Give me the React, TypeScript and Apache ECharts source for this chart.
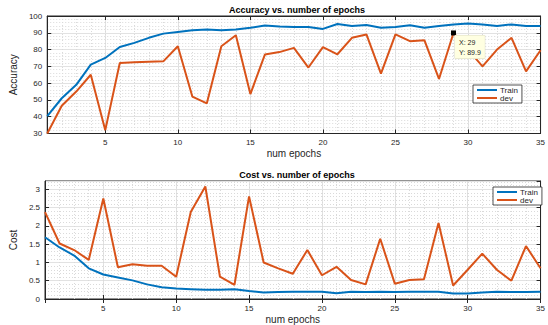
import React, { useEffect, useRef } from "react";
import * as echarts from "echarts";

// ---- data ----
const epochs = [1, 2, 3, 4, 5, 6, 7, 8, 9, 10, 11, 12, 13, 14, 15, 16, 17, 18, 19, 20, 21, 22, 23, 24, 25, 26, 27, 28, 29, 30, 31, 32, 33, 34, 35];

const trainAcc = [40.3, 51, 59, 71, 75, 81.5, 84, 87, 89.5, 90.5, 91.5, 92, 91.5, 92, 93, 94.3, 93.8, 93.5, 93.5, 92.3, 95.2, 94, 94.6, 93, 93.5, 94.5, 93, 94, 95, 95.5, 95, 94, 95, 94, 94];
const devAcc = [30, 46.5, 55, 65, 32, 72, 72.5, 72.8, 73, 82, 52, 48, 82, 88.5, 53.5, 77, 78.5, 81, 69.3, 81.5, 77.2, 87, 89, 65.7, 89.1, 85, 85.5, 62.5, 89.9, 80, 70, 80, 87, 67, 79.6];

const trainCost = [1.69, 1.41, 1.19, 0.84, 0.67, 0.59, 0.51, 0.4, 0.32, 0.29, 0.27, 0.25, 0.25, 0.27, 0.22, 0.18, 0.19, 0.2, 0.2, 0.2, 0.16, 0.2, 0.19, 0.2, 0.19, 0.2, 0.2, 0.2, 0.15, 0.15, 0.18, 0.2, 0.19, 0.19, 0.2];
const devCost = [2.38, 1.52, 1.34, 1.07, 2.75, 0.87, 0.95, 0.91, 0.91, 0.61, 2.38, 3.08, 0.61, 0.39, 2.81, 1.0, 0.84, 0.69, 1.34, 0.65, 0.88, 0.52, 0.4, 1.65, 0.42, 0.52, 0.54, 2.08, 0.37, 0.8, 1.24, 0.8, 0.5, 1.45, 0.84];

const seriesNames = ["Train", "dev"];
const titles = ["Accuracy vs. number of epochs", "Cost vs. number of epochs"];
const tipEpoch = 29;

const BLUE = "#0072BD";
const ORANGE = "#D95319";
const AX = "#262626";
const FONT = "'Liberation Sans', Arial, Helvetica, sans-serif";

function pairs(vals: number[]) {
  return vals.map((v, i) => [epochs[i], v]);
}

function xAxes(gridIndex: number) {
  return [
    {
      gridIndex,
      type: "value",
      min: 1,
      max: 35,
      splitNumber: 7,
      position: "bottom",
      name: "num epochs",
      nameLocation: "middle",
      nameGap: 15,
      nameTextStyle: { fontSize: 10, color: AX, fontFamily: FONT },
      axisLine: { show: true, lineStyle: { color: AX, width: 1 } },
      axisTick: { show: true, inside: true, length: 4, lineStyle: { color: AX } },
      axisLabel: { showMinLabel: false, fontSize: 8, color: AX, margin: 5, fontFamily: FONT },
      splitLine: { show: true, lineStyle: { color: "#e2e2e2", width: 1 } },
    },
    {
      gridIndex,
      type: "value",
      min: 1,
      max: 35,
      splitNumber: 7,
      position: "top",
      axisLine: { show: true, lineStyle: { color: AX, width: 1 } },
      axisTick: { show: true, inside: true, length: 4, lineStyle: { color: AX } },
      axisLabel: { show: false },
      splitLine: { show: false },
    },
    {
      gridIndex,
      type: "value",
      min: 1,
      max: 35,
      interval: 1,
      position: "top",
      axisLine: { show: false },
      axisTick: { show: false },
      axisLabel: { show: false },
      splitLine: { show: true, lineStyle: { color: "#dadada", width: 1, type: [1, 2] } },
    },
  ];
}

function yAxes(gridIndex: number, min: number, max: number, interval: number, name: string, nameGap: number, showMax: boolean) {
  return [
    {
      gridIndex,
      type: "value",
      min,
      max,
      interval,
      position: "left",
      name,
      nameLocation: "middle",
      nameGap,
      nameTextStyle: { fontSize: 10, color: AX, fontFamily: FONT },
      axisLine: { show: true, lineStyle: { color: AX, width: 1 } },
      axisTick: { show: true, inside: true, length: 4, lineStyle: { color: AX } },
      axisLabel: { showMaxLabel: showMax, fontSize: 8, color: AX, margin: 5, fontFamily: FONT },
      splitLine: { show: true, lineStyle: { color: "#e2e2e2", width: 1 } },
      minorTick: { show: false, splitNumber: 5 },
      minorSplitLine: { show: true, lineStyle: { color: "#dadada", width: 1, type: [1, 2] } },
    },
    {
      gridIndex,
      type: "value",
      min,
      max,
      interval,
      position: "right",
      axisLine: { show: true, lineStyle: { color: AX, width: 1 } },
      axisTick: { show: true, inside: true, length: 4, lineStyle: { color: AX } },
      axisLabel: { show: false },
      splitLine: { show: false },
    },
  ];
}

function legend(left: number, top: number) {
  return {
    left,
    top,
    orient: "vertical",
    data: seriesNames,
    icon: "rect",
    itemWidth: 20,
    itemHeight: 2,
    itemGap: 0,
    padding: [1, 4, 1, 4],
    backgroundColor: "#fff",
    borderColor: AX,
    borderWidth: 0.8,
    borderRadius: 0,
    selectedMode: false,
    textStyle: { fontSize: 8, color: AX, fontFamily: FONT, padding: [0, 0, 0, -2] },
  };
}

export default function App() {
  const ref = useRef<HTMLDivElement>(null);

  useEffect(() => {
    if (!ref.current) return;
    const chart = echarts.init(ref.current, undefined, { renderer: "svg" });
    const tipValue = devAcc[epochs.indexOf(tipEpoch)];

    const option: any = {
      animation: false,
      backgroundColor: "#fff",
      textStyle: { fontFamily: FONT },
      title: [
        {
          text: titles[0],
          left: 292,
          top: 2,
          padding: [3, 5, 3, 5],
          textAlign: "center",
          textStyle: { fontSize: 9, fontWeight: "bold", color: "#000", fontFamily: FONT },
        },
        {
          text: titles[1],
          left: 292,
          top: 167,
          padding: [3, 5, 3, 5],
          textAlign: "center",
          textStyle: { fontSize: 9, fontWeight: "bold", color: "#000", fontFamily: FONT },
        },
      ],
      grid: [
        { left: 38, right: 2, top: 16, height: 117.5, show: true, borderColor: AX, borderWidth: 1, backgroundColor: "#fff" },
        { left: 38, right: 2, top: 181, height: 118.3, show: true, borderColor: AX, borderWidth: 1, backgroundColor: "#fff" },
      ],
      xAxis: [...xAxes(0), ...xAxes(1)],
      yAxis: [...yAxes(0, 30, 100, 10, "Accuracy", 19, true), ...yAxes(1, 0, 3.23, 0.5, "Cost", 18, false)],
      legend: [legend(473, 85), legend(493, 187)],
      series: [
        {
          name: seriesNames[0],
          type: "line",
          xAxisIndex: 0,
          yAxisIndex: 0,
          data: pairs(trainAcc),
          showSymbol: false,
          color: BLUE,
          lineStyle: { width: 2, color: BLUE },
        },
        {
          name: seriesNames[1],
          type: "line",
          xAxisIndex: 0,
          yAxisIndex: 0,
          data: pairs(devAcc),
          showSymbol: false,
          color: ORANGE,
          lineStyle: { width: 2, color: ORANGE },
          markPoint: {
            symbol: "rect",
            symbolSize: 5,
            itemStyle: { color: "#000" },
            data: [
              {
                coord: [tipEpoch, tipValue],
                label: {
                  show: true,
                  position: [4, 5],
                  align: "left",
                  verticalAlign: "top",
                  formatter: `X: ${tipEpoch}\nY: ${tipValue}`,
                  fontSize: 7,
                  lineHeight: 10,
                  color: AX,
                  fontFamily: FONT,
                  backgroundColor: "#ffffe1",
                  borderColor: "#d8d8c0",
                  borderWidth: 0.5,
                  padding: [2, 4, 1, 4],
                },
              },
            ],
          },
        },
        {
          name: seriesNames[0],
          type: "line",
          xAxisIndex: 3,
          yAxisIndex: 2,
          data: pairs(trainCost),
          showSymbol: false,
          color: BLUE,
          lineStyle: { width: 2, color: BLUE },
        },
        {
          name: seriesNames[1],
          type: "line",
          xAxisIndex: 3,
          yAxisIndex: 2,
          data: pairs(devCost),
          showSymbol: false,
          color: ORANGE,
          lineStyle: { width: 2, color: ORANGE },
        },
      ],
    };

    chart.setOption(option);
    return () => chart.dispose();
  }, []);

  return (
    <div
      ref={ref}
      style={{ position: "fixed", left: 0, top: 0, width: 548, height: 325, background: "#fff" }}
    />
  );
}
